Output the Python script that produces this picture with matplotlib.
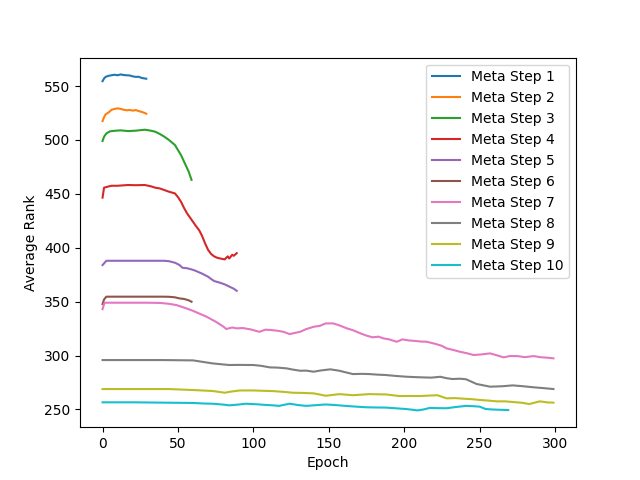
import matplotlib
matplotlib.use('Agg')
import matplotlib.pyplot as plt

# Datos: (epoch, average rank) por meta step
step1 = [(0, 554.5), (1, 557), (2, 558.5), (4, 559.5), (6, 560), (8, 560.5), (10, 560),
         (12, 560.8), (14, 560.2), (16, 560), (18, 559.8), (20, 559), (22, 558.5),
         (24, 558.6), (26, 557.5), (28, 557), (29, 556.8)]
step2 = [(0, 517.5), (1, 521), (2, 523.7), (4, 525.5), (6, 528), (8, 528.8), (10, 529.3),
         (12, 528.8), (14, 528), (16, 527.5), (18, 527.8), (20, 527.2), (22, 527.7),
         (24, 526.8), (26, 526), (28, 525), (29, 524.3)]
step3 = [(0, 499), (1, 503), (2.5, 506), (5, 508), (8, 508.5), (12, 508.9), (17, 508.2),
         (22, 508.6), (28, 509.5), (32, 508.6), (35, 507.6), (38, 505.5), (41, 503),
         (44, 500), (48, 495.3), (52, 486), (55, 477), (57, 471), (59, 463)]
step4 = [(0, 446.5), (1, 455.7), (3, 456.5), (6, 457.5), (10, 457.5), (17, 458.2), (22, 458),
         (28, 458.2), (32, 457), (35, 455.7), (38, 455), (41, 453.5), (44, 452), (48, 450.4),
         (50, 447), (52, 442.7), (54, 437), (56, 432), (58, 428), (60, 424), (62, 420),
         (64, 416.4), (66, 411), (68, 404), (70, 398), (72, 394.2), (74, 392), (76, 390.7),
         (78, 390), (81, 389.2), (83, 392), (84, 390), (86, 393.5), (87, 392.5), (89, 395)]
step5 = [(0, 383.9), (2.5, 387.9), (10, 387.9), (20, 387.9), (30, 387.9), (41, 387.9),
         (44, 387.5), (48, 386.1), (51, 384), (53, 381.4), (56, 381), (59, 379.9), (61, 379),
         (63, 377.8), (66, 376), (70, 373.1), (72, 371), (74, 369.1), (78, 367.5), (81, 366),
         (84, 364), (87, 362), (89, 360)]
step6 = [(0, 347.8), (1, 352), (2.5, 354.6), (10, 354.6), (20, 354.6), (30, 354.6),
         (40, 354.6), (44, 354.5), (48, 354), (51, 353), (54, 352.5), (57, 351.3), (59, 349.9)]
step7 = [(0, 343), (1.3, 349), (10, 349), (20, 349), (30, 349), (38, 348.8), (44, 348),
         (49, 346.8), (55, 344), (60, 341.5), (64, 339), (69, 336), (75, 331.4), (80, 327),
         (82, 324.6), (86, 326), (89, 325.2), (93, 325.5), (98, 324.3), (104, 322), (108, 324),
         (112, 323.6), (116, 323), (120, 322), (124, 319.9), (131, 322), (135, 324.5),
         (140, 326.7), (144, 327.5), (148, 329.8), (153, 329.8), (157, 328), (162, 325.2),
         (166, 323.5), (171, 320.6), (175, 318.5), (179, 316.9), (183, 317.5), (186, 316),
         (190, 315), (195, 312.8), (199, 315), (203, 314), (206, 313.7), (211, 313),
         (215, 312.8), (221, 310.7), (225, 309), (228, 306.7), (233, 305), (237, 303.5),
         (242, 302), (246, 300.5), (251, 301), (257, 302), (262, 300), (266, 298.3),
         (270, 299.5), (275, 299.5), (280, 298.5), (286, 299.5), (290, 298.5), (295, 298),
         (299, 297.4)]
step8 = [(0, 295.8), (20, 295.8), (40, 295.8), (60, 295.5), (66, 294.2), (73, 292.7),
         (78, 292), (84, 291.2), (90, 291.3), (100, 291.2), (105, 290.5), (111, 289),
         (116, 288.8), (122, 288.1), (126, 287), (131, 285.9), (135, 286), (140, 285),
         (145, 286.2), (151, 287.2), (157, 285.9), (161, 284.5), (166, 282.8), (172, 283),
         (177, 282.8), (182, 282.3), (188, 281.9), (195, 281), (202, 280.3), (207, 280),
         (213, 279.7), (218, 279.5), (224, 280.3), (228, 279), (232, 278.2), (237, 278.5),
         (241, 278), (245, 275.5), (248, 273.6), (252, 272.5), (257, 271.1), (265, 271.5),
         (272, 272.3), (279, 271.5), (286, 270.5), (293, 269.7), (299, 268.9)]
step9 = [(0, 268.9), (20, 268.9), (44, 268.9), (60, 268), (73, 267.1), (81, 265.5),
         (85, 266.5), (91, 267.6), (100, 267.6), (106, 267.3), (113, 267), (120, 266.3),
         (126, 265.5), (133, 265.3), (140, 264.9), (148, 262.7), (153, 263.5), (157, 264.2),
         (166, 263.2), (177, 264.2), (188, 263.9), (197, 262.4), (204, 262.5), (210, 262.4),
         (216, 262.8), (222, 263.2), (228, 260.3), (234, 260.5), (239, 260), (245, 259.5),
         (250, 258.8), (256, 258.2), (261, 257.5), (267, 257.5), (272, 256.9), (278, 256.2),
         (283, 255), (290, 257.5), (295, 256.5), (299, 256.3)]
step10 = [(0, 256.6), (20, 256.6), (40, 256.3), (60, 256), (67, 255.5), (73, 255.3),
          (80, 254.5), (84, 253.8), (90, 254.5), (95, 255.3), (102, 254.8), (108, 254.2),
          (113, 253.8), (117, 253.3), (124, 255.3), (130, 254), (135, 253.3), (142, 254),
          (148, 254.6), (155, 254), (161, 253.3), (168, 252.6), (175, 252), (182, 251.8),
          (188, 251.7), (195, 251), (201, 250.4), (205, 249.8), (209, 249.1), (213, 250),
          (217, 251.4), (222, 251.2), (228, 251.1), (234, 252.2), (241, 253.3), (246, 253),
          (250, 252.6), (254, 250.4), (258, 250), (261, 249.8), (265, 249.6), (269, 249.4)]

steps = [step1, step2, step3, step4, step5, step6, step7, step8, step9, step10]

plt.figure(figsize=(6.4, 4.8), dpi=100)
for i, datos in enumerate(steps):
    ep, rank = zip(*datos)
    plt.plot(ep, rank, label='Meta Step ' + str(i + 1))

plt.xlabel('Epoch')
plt.ylabel('Average Rank')
plt.legend()
plt.savefig('out.png')
